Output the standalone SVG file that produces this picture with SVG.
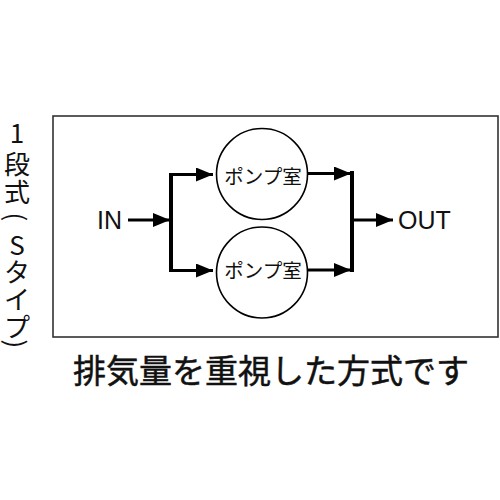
<svg xmlns="http://www.w3.org/2000/svg" width="500" height="500" viewBox="0 0 500 500">
<style>
.lbl{font-family:"Liberation Sans",Arial,sans-serif;font-size:25px;fill:#111}
.jp{font-family:"Noto Sans CJK JP","Noto Sans",sans-serif;fill:#111}
.pump{font-size:19.5px}
.side{font-size:26px;text-anchor:middle;dominant-baseline:central}
.conn{stroke:#000;fill:none;stroke-width:3}
.bar{stroke:#000;fill:none;stroke-width:4}
.circ{fill:#fff;stroke:#000;stroke-width:1.6}
</style>
<defs>
<marker id="ah" viewBox="0 0 17 14" refX="17" refY="7" markerWidth="17" markerHeight="14" markerUnits="userSpaceOnUse" orient="auto">
<polygon points="0,0 17,7 0,14" fill="#000"/>
</marker>
</defs>
<rect width="500" height="500" fill="#fff"/>
<g id="side-label">
<text class="jp side" x="17" y="131.5">1</text>
<text class="jp side" x="17" y="162.5">段</text>
<text class="jp side" x="17" y="190.5">式</text>
<g transform="translate(17 217) rotate(90)"><text class="jp side" x="0" y="0">(</text></g>
<text class="jp side" x="17" y="243">S</text>
<text class="jp side" x="17" y="270">タ</text>
<text class="jp side" x="17" y="297.5">イ</text>
<text class="jp side" x="17" y="325.5">プ</text>
<g transform="translate(17 344) rotate(90)"><text class="jp side" x="0" y="0">)</text></g>
</g>
<g id="frame">
<rect x="53" y="116" width="445" height="221" fill="none" stroke="#333" stroke-width="1.6"/>
</g>
<g id="connectors">
<line class="conn" x1="128" y1="220" x2="170" y2="220" marker-end="url(#ah)"/>
<line class="bar" x1="171" y1="173" x2="171" y2="272"/>
<line class="conn" x1="171" y1="174.5" x2="213" y2="174.5" marker-end="url(#ah)"/>
<line class="conn" x1="171" y1="270.5" x2="213" y2="270.5" marker-end="url(#ah)"/>
<line class="conn" x1="308" y1="173.5" x2="351" y2="173.5" marker-end="url(#ah)"/>
<line class="conn" x1="308" y1="270" x2="351" y2="270" marker-end="url(#ah)"/>
<line class="bar" x1="352" y1="171" x2="352" y2="272"/>
<line class="conn" x1="352" y1="220" x2="393" y2="220" marker-end="url(#ah)"/>
</g>
<g id="in">
<text class="lbl" x="97" y="229">IN</text>
</g>
<g id="out">
<text class="lbl" x="398" y="229">OUT</text>
</g>
<g id="pump1">
<circle class="circ" cx="262" cy="174" r="45.5"/>
<text class="jp pump" x="263" y="184" text-anchor="middle">ポンプ室</text>
</g>
<g id="pump2">
<circle class="circ" cx="262" cy="272.5" r="45.5"/>
<text class="jp pump" x="263" y="278" text-anchor="middle">ポンプ室</text>
</g>
<g id="caption">
<text class="jp" x="73" y="383" stroke="#111" stroke-width="0.5" style="font-size:33px;font-weight:400">排気量を重視した方式です</text>
</g>
</svg>
